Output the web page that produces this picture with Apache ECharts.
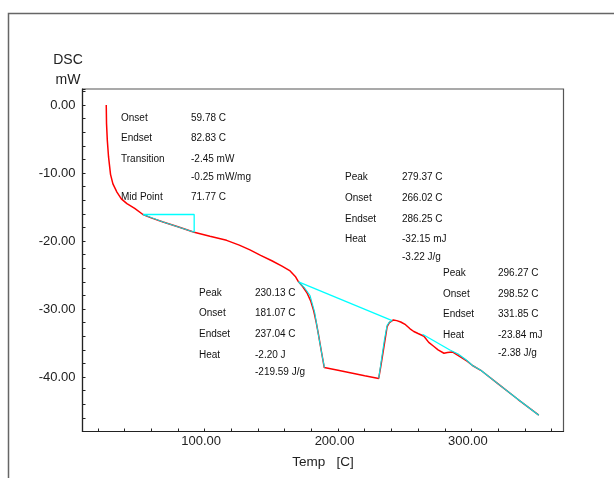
<!DOCTYPE html>
<html>
<head>
<meta charset="utf-8">
<script src="https://cdn.jsdelivr.net/npm/echarts@6/dist/echarts.min.js"></script>
<style>
  html, body { margin: 0; padding: 0; background: #fff; }
  #main { width: 614px; height: 478px; }
</style>
</head>
<body>
<div id="main"></div>
<script>
// DSC trace, [temp C, mW]
var dscCurve = [
  [26.3, 0], [26.5, -2.7], [27.1, -5.2], [28.0, -7.6], [29.5, -10.2], [31.3, -11.6],
  [34.3, -12.8], [37.6, -13.8], [41.8, -14.5], [47.6, -15.2], [53.8, -16.1], [60, -16.6],
  [68.9, -17.2], [80, -17.9], [92.2, -18.7], [104, -19.3], [116.5, -19.9], [126, -20.6],
  [134, -21.3], [142, -22.1], [150.4, -22.9], [158, -23.7], [164.1, -24.4], [168, -25.2],
  [170.4, -26.0], [173.5, -26.7], [176.7, -27.6], [179.5, -28.8], [181.7, -30.2], [183.7, -32],
  [185.4, -33.8], [187.5, -36.2], [189.7, -38.6], [200, -39.0], [210, -39.4], [220, -39.8],
  [230.5, -40.2], [232, -38.5], [234.8, -35.1], [236.8, -32.6], [238.5, -32.0], [241.5, -31.6],
  [244, -31.7], [247, -31.9], [250.6, -32.3], [254, -32.9], [256.8, -33.3], [260, -33.6],
  [264.4, -34.0], [268, -34.9], [271.9, -35.5], [275, -36.0], [279.4, -36.5], [282, -36.4],
  [285.7, -36.3], [289, -36.7], [293.2, -37.2], [297, -37.7], [300.8, -38.3], [307, -39.0],
  [320, -41.0], [335, -43.3], [350.5, -45.6]
];

// analysis lines (cyan)
var tgBox = [[53.8, -16.1], [92.2, -16.1], [92.2, -18.7]];
var tgTangent = [[53.8, -16.1], [68.9, -17.2], [92.2, -18.7]];
var peak1Base = [[170.4, -26.0], [240.6, -31.7]];
var peak1Down = [[170.4, -26.0], [175, -26.9], [179, -28.0], [182.5, -30.5], [185.5, -34], [188.5, -37.3], [189.9, -38.6]];
var peak1Up = [[230.5, -40.2], [232.5, -37.5], [234.8, -34.5], [236.8, -32.4], [238.5, -31.9], [240.6, -31.7]];
var peak2Base = [[263.3, -33.7], [284.5, -36.1]];
var tailBase = [[284.5, -36.1], [290, -36.6], [295.7, -37.4], [300.8, -38.3], [307, -39.0], [320, -41.0], [335, -43.3], [350.5, -45.6]];

// axis ranges
var tempRange = [8.5, 369];
var tempTickRange = [20, 360];
var dscRange = [-48, 2.35];

// annotation text
var tgLabels = ['Onset', 'Endset', 'Transition', '', 'Mid Point'];
var tgValues = ['59.78 C', '82.83 C', '-2.45 mW', '-0.25 mW/mg', '71.77 C'];
var peak1Labels = ['Peak', 'Onset', 'Endset', 'Heat', ''];
var peak1Values = ['230.13 C', '181.07 C', '237.04 C', '-2.20 J', '-219.59 J/g'];
var peak2Labels = ['Peak', 'Onset', 'Endset', 'Heat', ''];
var peak2Values = ['279.37 C', '266.02 C', '286.25 C', '-32.15 mJ', '-3.22 J/g'];
var peak3Labels = ['Peak', 'Onset', 'Endset', 'Heat', ''];
var peak3Values = ['296.27 C', '298.52 C', '331.85 C', '-23.84 mJ', '-2.38 J/g'];

var FONT = '"Liberation Sans", Arial, sans-serif';

function block(labels, values, x1, x2, rows) {
  var out = [];
  for (var i = 0; i < labels.length; i++) {
    if (labels[i]) out.push({ type: 'text', x: x1, y: rows[i], style: { text: labels[i], font: '10px ' + FONT, fill: '#111', verticalAlign: 'middle' } });
    if (values[i]) out.push({ type: 'text', x: x2, y: rows[i], style: { text: values[i], font: '10px ' + FONT, fill: '#111', verticalAlign: 'middle' } });
  }
  return out;
}

var graphics = [
  { type: 'polyline', shape: { points: [[8.5, 478], [8.5, 13.5], [614, 13.5]] }, style: { stroke: '#666', lineWidth: 1.5, fill: null } },
  { type: 'text', x: 68, y: 60, style: { text: 'DSC', font: '14px ' + FONT, fill: '#222', align: 'center', verticalAlign: 'middle' } },
  { type: 'text', x: 68, y: 80, style: { text: 'mW', font: '14px ' + FONT, fill: '#222', align: 'center', verticalAlign: 'middle' } }
];
graphics = graphics
  .concat(block(tgLabels, tgValues, 121, 191, [118, 138.5, 159, 177, 197.5]))
  .concat(block(peak1Labels, peak1Values, 199, 255, [293.5, 313.5, 334, 355.5, 372]))
  .concat(block(peak2Labels, peak2Values, 345, 402, [177, 198.5, 219.5, 239.5, 257.5]))
  .concat(block(peak3Labels, peak3Values, 443, 498, [273.5, 294, 314, 335, 353]));

function line(data, color, width) {
  return { type: 'line', data: data, showSymbol: false, silent: true, animation: false,
    lineStyle: { color: color, width: width } };
}

// plot box
var gLeft = 82.5, gTop = 89, gWidth = 481, gHeight = 342.5;
// second grid only carries the x ticks (ticks start at 20, not at the axis min)
var pxPerDeg = gWidth / (tempRange[1] - tempRange[0]);
var tLeft = gLeft + (tempTickRange[0] - tempRange[0]) * pxPerDeg;
var tWidth = (tempTickRange[1] - tempTickRange[0]) * pxPerDeg;

var myChart = echarts.init(document.getElementById('main'));
var option = {
  animation: false,
  grid: [
    { left: gLeft, top: gTop, width: gWidth, height: gHeight, show: true, borderColor: '#555', borderWidth: 1.2 },
    { left: tLeft, top: gTop, width: tWidth, height: gHeight, show: false }
  ],
  xAxis: [{
    gridIndex: 0, type: 'value', min: tempRange[0], max: tempRange[1],
    name: 'Temp   [C]', nameLocation: 'middle', nameGap: 24,
    nameTextStyle: { fontFamily: FONT, fontSize: 13.5, color: '#222' },
    axisLine: { onZero: false, lineStyle: { color: '#222', width: 1.2 } },
    axisTick: { show: false },
    axisLabel: { show: false },
    splitLine: { show: false }
  }, {
    gridIndex: 1, type: 'value', min: tempTickRange[0], max: tempTickRange[1], interval: 20,
    axisLine: { show: false, onZero: false },
    axisTick: { show: true, inside: true, length: 3, lineStyle: { color: '#222' } },
    splitLine: { show: false },
    axisLabel: { fontFamily: FONT, fontSize: 13, color: '#222', margin: 3, padding: [0, 7, 0, 0],
      formatter: function (v) { return (Math.abs(v % 100) < 1e-6) ? v.toFixed(2) : ''; } }
  }],
  yAxis: [{
    gridIndex: 0, type: 'value', min: dscRange[0], max: dscRange[1], interval: 2,
    axisLine: { show: true, onZero: false, lineStyle: { color: '#222', width: 1.2 } },
    axisTick: { show: true, inside: true, length: 3, lineStyle: { color: '#222' } },
    splitLine: { show: false },
    axisLabel: { fontFamily: FONT, fontSize: 13, color: '#222', margin: 7,
      formatter: function (v) { return (Math.abs(v % 10) < 1e-6) ? v.toFixed(2) : ''; } }
  }, {
    gridIndex: 1, type: 'value', min: dscRange[0], max: dscRange[1], show: false
  }],
  graphic: graphics,
  series: [
    line(dscCurve, '#ff0000', 1.5),
    line(tgBox, '#00ffff', 1.3),
    line(tgTangent, '#00e5e5', 1),
    line(peak1Base, '#00ffff', 1.3),
    line(peak1Down, '#00e5e5', 1.1),
    line(peak1Up, '#00e5e5', 1.1),
    line(peak2Base, '#00ffff', 1.3),
    line(tailBase, '#00e5e5', 1.2)
  ]
};
myChart.setOption(option);
</script>
</body>
</html>
